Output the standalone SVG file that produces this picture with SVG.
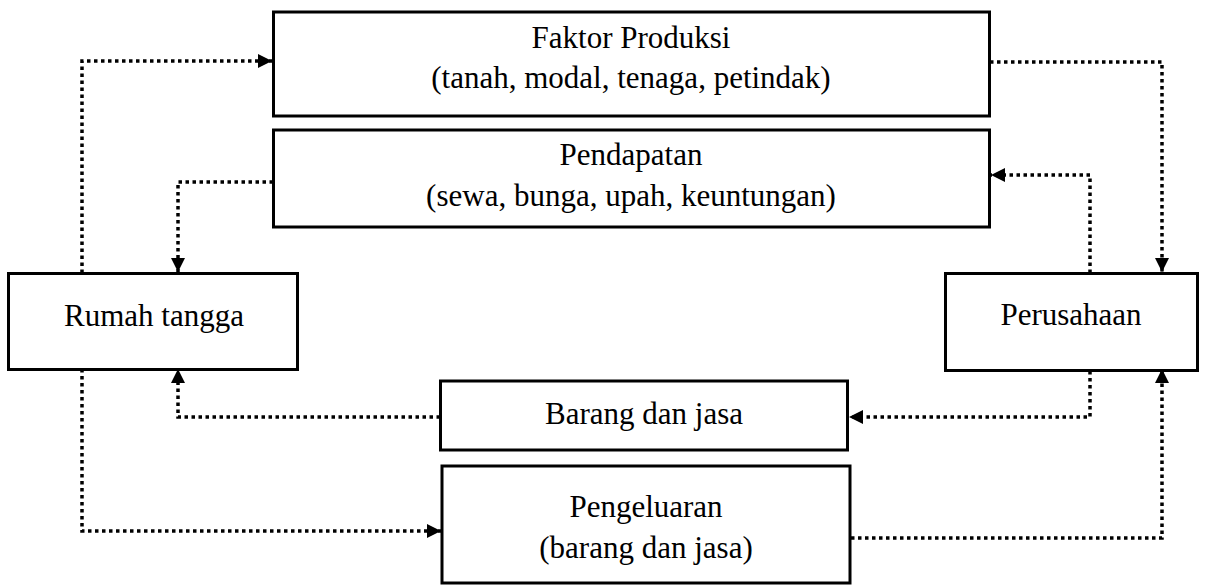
<svg xmlns="http://www.w3.org/2000/svg" width="1205" height="585" viewBox="0 0 1205 585">
<style>
.box{fill:#fff;stroke:#000;stroke-width:3}
.t{font-family:'Liberation Serif','Times New Roman',serif;font-size:31px;fill:#000;text-anchor:middle}
.c{fill:none;stroke:#000;stroke-width:3.5;stroke-dasharray:3.5 3.5}
</style>
<defs>
<marker id="ah" viewBox="0 0 10 10" refX="10" refY="5" markerWidth="14" markerHeight="14" markerUnits="userSpaceOnUse" orient="auto">
<path d="M0,0 L10,5 L0,10 Z" fill="#000"/>
</marker>
</defs>
<rect width="1205" height="585" fill="#fff"/>
<g id="connectors">
<path class="c" d="M82,273 V61 H272" marker-end="url(#ah)"/>
<path class="c" d="M990,62 H1162 V272" marker-end="url(#ah)"/>
<path class="c" d="M273,182 H178 V272" marker-end="url(#ah)"/>
<path class="c" d="M1090,273 V175 H991" marker-end="url(#ah)"/>
<path class="c" d="M1090,371 V417 H849" marker-end="url(#ah)"/>
<path class="c" d="M440,417 H178 V369" marker-end="url(#ah)"/>
<path class="c" d="M82,369 V531 H441" marker-end="url(#ah)"/>
<path class="c" d="M851,538 H1162 V369" marker-end="url(#ah)"/>
</g>
<g id="faktor">
<rect class="box" x="273.5" y="12" width="716" height="104"/>
<text class="t" x="631" y="48">Faktor Produksi</text>
<text class="t" x="631" y="88">(tanah, modal, tenaga, petindak)</text>
</g>
<g id="pendapatan">
<rect class="box" x="273.5" y="130" width="716" height="97"/>
<text class="t" x="631" y="165">Pendapatan</text>
<text class="t" x="631" y="206">(sewa, bunga, upah, keuntungan)</text>
</g>
<g id="rumah">
<rect class="box" x="8.5" y="273.5" width="289" height="96"/>
<text class="t" x="154" y="326">Rumah tangga</text>
</g>
<g id="perusahaan">
<rect class="box" x="945.5" y="273.5" width="252" height="97"/>
<text class="t" x="1071" y="325">Perusahaan</text>
</g>
<g id="barang">
<rect class="box" x="440.5" y="381" width="407" height="69"/>
<text class="t" x="644" y="424">Barang dan jasa</text>
</g>
<g id="pengeluaran">
<rect class="box" x="442" y="466" width="408" height="117"/>
<text class="t" x="646" y="517">Pengeluaran</text>
<text class="t" x="646" y="558">(barang dan jasa)</text>
</g>
</svg>
